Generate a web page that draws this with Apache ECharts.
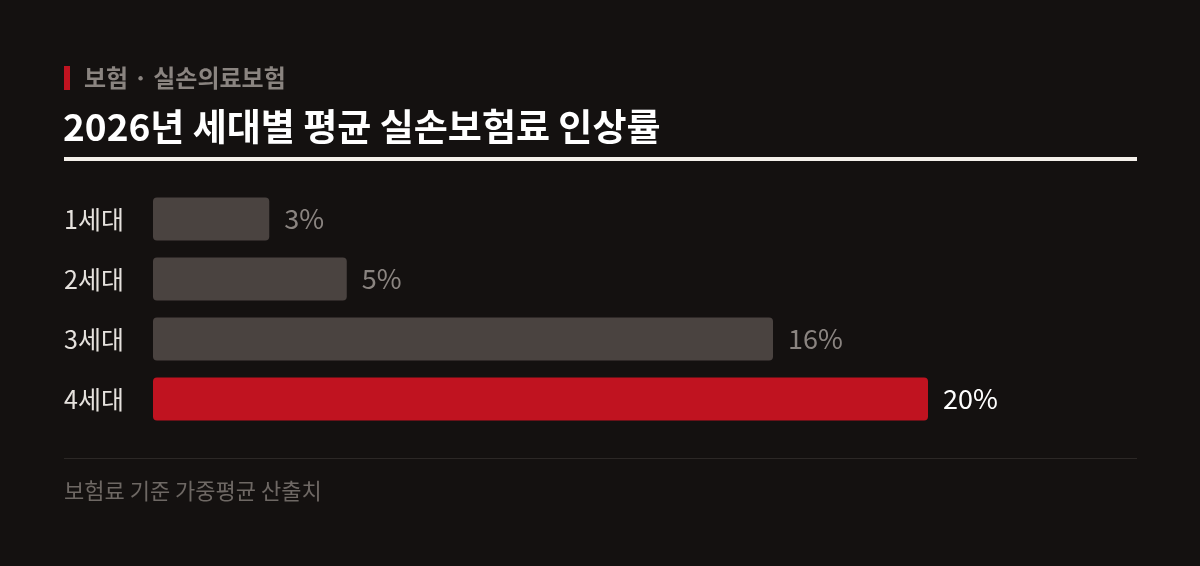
<!DOCTYPE html>
<html>
<head>
<meta charset="utf-8">
<style>
  html, body { margin: 0; padding: 0; background: #141110; }
  #chart { width: 1200px; height: 566px; }
</style>
<script src="https://cdn.jsdelivr.net/npm/echarts@6/dist/echarts.min.js"></script>
</head>
<body>
<div id="chart"></div>
<script>
// 데이터
const generations = ['1세대', '2세대', '3세대', '4세대'];
const increaseRates = [3, 5, 16, 20];
const highlightIndex = 3;

const kicker = '보험 · 실손의료보험';
const title = '2026년 세대별 평균 실손보험료 인상률';
const note = '보험료 기준 가중평균 산출치';

const FONT = '"Noto Sans CJK KR", "Noto Sans", sans-serif';

const chart = echarts.init(document.getElementById('chart'));

chart.setOption({
  backgroundColor: '#141110',
  animation: false,
  grid: { left: 153, top: 189, width: 775, height: 240, containLabel: false },
  xAxis: {
    type: 'value',
    min: 0,
    max: 20,
    show: false
  },
  yAxis: {
    type: 'category',
    inverse: true,
    data: generations,
    axisLine: { show: false },
    axisTick: { show: false },
    splitLine: { show: false },
    axisLabel: {
      align: 'left',
      margin: 89,
      color: '#e6e2de',
      fontSize: 25,
      fontFamily: FONT
    }
  },
  series: [{
    type: 'bar',
    barWidth: 43,
    data: increaseRates.map((v, i) => ({
      value: v,
      itemStyle: { color: i === highlightIndex ? '#c01320' : '#4a4340' },
      label: { color: i === highlightIndex ? '#ffffff' : '#8a8480' }
    })),
    itemStyle: { borderRadius: 4 },
    label: {
      show: true,
      position: 'right',
      distance: 15,
      fontSize: 27,
      fontFamily: FONT,
      formatter: p => p.value + '%'
    }
  }],
  graphic: [
    { type: 'rect', shape: { x: 64, y: 66, width: 6, height: 24 }, style: { fill: '#c01320' } },
    {
      type: 'text', left: 84, top: 66,
      style: { text: kicker, fill: '#8a8480', font: 'bold 24px ' + FONT }
    },
    {
      type: 'text', left: 63, top: 108,
      style: { text: title, fill: '#ffffff', font: 'bold 37px ' + FONT }
    },
    { type: 'rect', shape: { x: 64, y: 157, width: 1073, height: 4 }, style: { fill: '#f4f0ea' } },
    { type: 'rect', shape: { x: 64, y: 458, width: 1073, height: 1 }, style: { fill: '#2c2826' } },
    {
      type: 'text', left: 64, top: 480,
      style: { text: note, fill: '#6e6864', font: '22px ' + FONT }
    }
  ]
});
</script>
</body>
</html>
